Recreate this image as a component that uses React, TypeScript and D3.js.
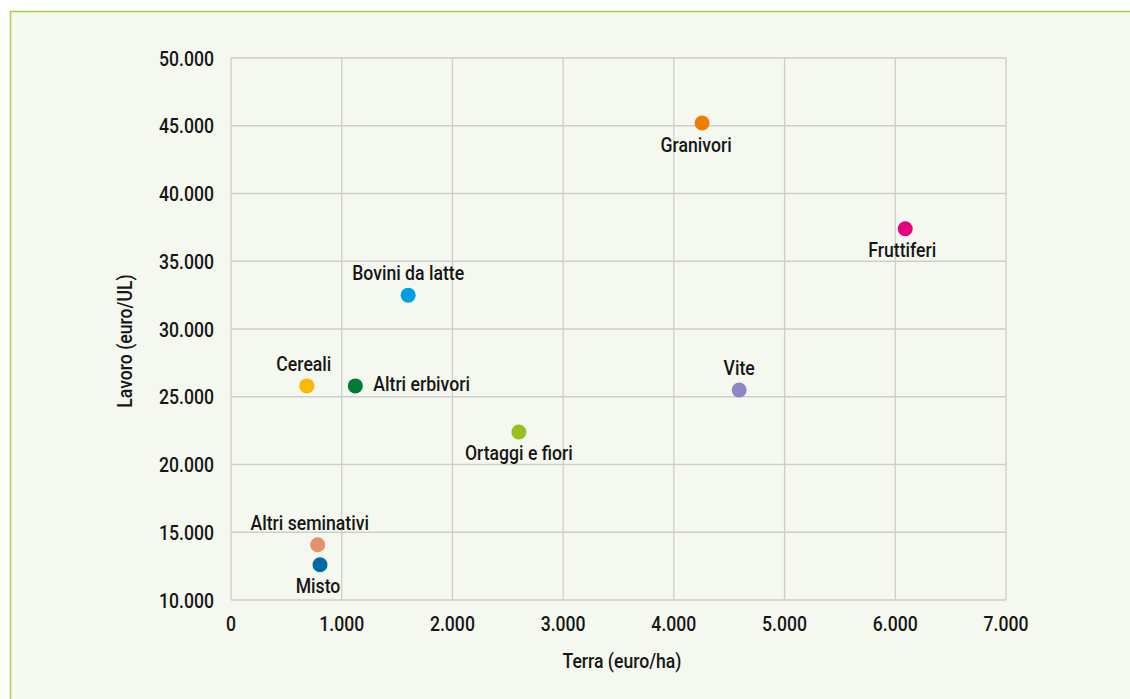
import React from "react";
import * as d3 from "d3";

const categories = ["Granivori", "Fruttiferi", "Bovini da latte", "Cereali", "Altri erbivori", "Ortaggi e fiori", "Vite", "Altri seminativi", "Misto"];
const terraValues = [4255, 6090, 1600, 685, 1123, 2600, 4590, 783, 804];
const lavoroValues = [45200, 37400, 32500, 25800, 25800, 22400, 25500, 14080, 12600];
const pointColors = ["#ef7d00", "#e5007d", "#009fe3", "#fbb800", "#007a37", "#95c11f", "#8c87c2", "#e3916f", "#0069aa"];
const labelPlacement = ["below", "below", "above", "above", "right", "below", "above", "above", "below"];
const xTicks = [0, 1000, 2000, 3000, 4000, 5000, 6000, 7000];
const yTicks = [10000, 15000, 20000, 25000, 30000, 35000, 40000, 45000, 50000];
const xTitle = "Terra (euro/ha)";
const yTitle = "Lavoro (euro/UL)";

const W = 1130;
const H = 699;
const FONT = "Roboto, 'Noto Sans', sans-serif";
const FS = 21;
const SX = 0.84;

// small label nudges (layout only)
const labelNudge: Record<string, number> = { Granivori: -6, Fruttiferi: -3, Cereali: -3, "Altri seminativi": -8, Misto: -2 };

function CText({ x, y, anchor = "middle", children, rotate = 0 }: { x: number; y: number; anchor?: string; children: React.ReactNode; rotate?: number }) {
  return (
    <g transform={`translate(${x},${y}) rotate(${rotate}) scale(${SX},1)`}>
      <text x={0} y={0} textAnchor={anchor} fontFamily={FONT} fontSize={FS} fontWeight={500} fill="#161616">
        {children}
      </text>
    </g>
  );
}

export default function App() {
  const x = d3.scaleLinear().domain([0, 7000]).range([231, 1006]);
  const y = d3.scaleLinear().domain([10000, 50000]).range([600, 58]);
  const fmt = (v: number) => d3.format(",")(v).replace(/,/g, ".");

  return (
    <svg width={W} height={H} style={{ position: "absolute", left: 0, top: 0, display: "block" }}>
      <rect x={0} y={0} width={W} height={H} fill="#ffffff" />
      <rect x={11} y={12} width={W - 11} height={H - 12} fill="#f5f8ee" />
      <line x1={10.5} y1={11} x2={10.5} y2={H} stroke="#a9cf45" strokeWidth={1.5} />
      <line x1={10} y1={11.5} x2={W} y2={11.5} stroke="#a9cf45" strokeWidth={1.5} />

      {xTicks.map((t) => (
        <line key={"gx" + t} x1={x(t)} x2={x(t)} y1={y(50000)} y2={y(10000)} stroke="#cdcdcd" strokeWidth={1.3} />
      ))}
      {yTicks.map((t) => (
        <line key={"gy" + t} x1={x(0)} x2={x(7000)} y1={y(t)} y2={y(t)} stroke="#cdcdcd" strokeWidth={1.3} />
      ))}

      {xTicks.map((t) => (
        <CText key={"tx" + t} x={x(t)} y={631}>{fmt(t)}</CText>
      ))}
      {yTicks.map((t) => (
        <CText key={"ty" + t} x={214} y={y(t) + 7.5} anchor="end">{fmt(t)}</CText>
      ))}

      <CText x={622} y={668}>{xTitle}</CText>
      <CText x={132} y={341} rotate={-90}>{yTitle}</CText>

      {categories.map((c, i) => {
        const px = x(terraValues[i]);
        const py = y(lavoroValues[i]);
        const p = labelPlacement[i];
        let lx = px + (labelNudge[c] || 0), ly = py, anchor = "middle";
        if (p === "above") { ly = py - 15; }
        else if (p === "below") { ly = py + 28.5; }
        else { lx = px + 18; ly = py + 5; anchor = "start"; }
        return (
          <g key={c}>
            <circle cx={px} cy={py} r={7.5} fill={pointColors[i]} />
            <CText x={lx} y={ly} anchor={anchor}>{c}</CText>
          </g>
        );
      })}
    </svg>
  );
}
